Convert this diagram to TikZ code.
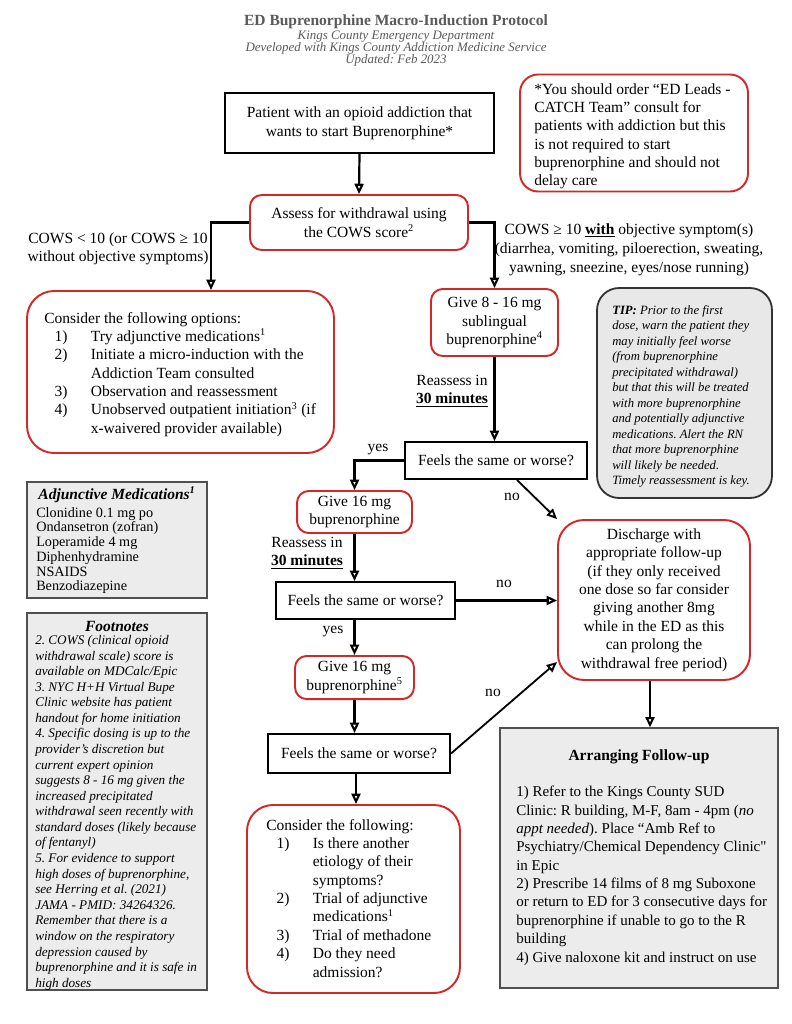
\documentclass[tikz,border=0pt]{standalone}
\usepackage{fontspec}
\setmainfont{Liberation Serif}
\usetikzlibrary{arrows.meta,calc}
\definecolor{boxred}{RGB}{212,40,40}
\definecolor{greyfill}{RGB}{236,236,236}
\definecolor{tipfill}{RGB}{232,232,232}
\definecolor{greyline}{RGB}{80,80,80}
\definecolor{hdrgrey}{RGB}{90,90,90}
\newcommand\bodyfont{\fontsize{12}{14.2}\selectfont}
\newcommand\myitem[2]{\makebox[36pt][l]{\hspace{8pt}#1}#2}
\newcommand\mycont[1]{\hspace*{36pt}#1}
\newcommand\straightquote{{\addfontfeature{Ligatures=TeXOff}"}}
\frenchspacing
\tikzset{
  redbox/.style={draw=boxred, line width=1.5pt, rounded corners=9pt, fill=white, align=center, inner sep=1pt},
  blackbox/.style={draw=black, line width=1.5pt, fill=white, align=center, inner sep=1pt},
  greybox/.style={draw=greyline, line width=1pt, fill=greyfill},
  tipbox/.style={draw=black!80, line width=1.4pt, fill=tipfill, rounded corners=17pt},
  txt/.style={anchor=north west, align=left, inner sep=0pt},
  lbl/.style={align=center, inner sep=0pt},
  arr/.style={line width=1.7pt, -{Triangle[open, length=8pt, width=7pt, line width=1.6pt]}},
  darr/.style={line width=1.4pt, -{Triangle[open, length=8pt, width=7pt, line width=1.5pt]}},
}
\begin{document}
\frenchspacing
\begin{tikzpicture}[x=0.7734pt, y=-0.7734pt, font=\bodyfont]
\fill[white] (0,0) rectangle (791,1024);
\useasboundingbox (0,0) rectangle (791,1024);

% header
\node[lbl, text=hdrgrey, font=\fontsize{12}{14}\selectfont\bfseries] (title) at (396,22) {ED Buprenorphine Macro-Induction Protocol};
\node[lbl, text=hdrgrey, font=\fontsize{10}{9.3}\selectfont\itshape] (subtitle) at (396,49) {Kings County Emergency Department\\Developed with Kings County Addiction Medicine Service\\Updated: Feb 2023};

% start
\node[blackbox, minimum width=208pt, minimum height=46.4pt, font=\fontsize{12}{15}\selectfont] (start) at (359.5,123) {Patient with an opioid addiction that\\wants to start Buprenorphine*};

% note
\node[redbox, rounded corners=14pt, minimum width=176.3pt, minimum height=90.5pt] (note) at (634,133) {};
\node[txt] (notetext) at (534,83) {*You should order “ED Leads -\\CATCH Team” consult for\\patients with addiction but this\\is not required to start\\buprenorphine and should not\\delay care};

% cows
\node[redbox, minimum width=168.6pt, minimum height=42.5pt] (cows) at (359,222.5) {Assess for withdrawal using\\the COWS score\textsuperscript{2}};

\node[lbl] (lowlbl) at (118,249) {COWS < 10 (or COWS ≥ 10\\without objective symptoms)};
\node[lbl, font=\fontsize{12}{14.8}\selectfont] (highlbl) at (629,250) {COWS ≥ 10 \textbf{\underline{with}} objective symptom(s)\\(diarrhea, vomiting, piloerection, sweating,\\yawning, sneezine, eyes/nose running)};

% options
\node[redbox, rounded corners=21pt, minimum width=237.4pt, minimum height=125.3pt] (opts) at (180.5,372) {};
\node[txt] (optstext) at (44,312) {Consider the following options:\\
\myitem{1)}{Try adjunctive medications\textsuperscript{1}}\\
\myitem{2)}{Initiate a micro-induction with the}\\
\mycont{Addiction Team consulted}\\
\myitem{3)}{Observation and reassessment}\\
\myitem{4)}{Unobserved outpatient initiation\textsuperscript{3} (if}\\
\mycont{x-waivered provider available)}};

% give 8-16
\node[redbox, minimum width=98.2pt, minimum height=51.8pt] (give8) at (494.5,322.5) {Give 8 - 16 mg\\sublingual\\buprenorphine\textsuperscript{4}};

% tip
\node[tipbox, minimum width=135.3pt, minimum height=162.4pt] (tip) at (684.5,393) {};
\node[txt, font=\fontsize{9.8}{12}\selectfont\itshape] (tiptext) at (612,305) {\textbf{TIP:} Prior to the first\\dose, warn the patient they\\may initially feel worse\\(from buprenorphine\\precipitated withdrawal)\\but that this will be treated\\with more buprenorphine\\and potentially adjunctive\\medications. Alert the RN\\that more buprenorphine\\will likely be needed.\\Timely reassessment is key.};

\node[lbl] (reass1) at (452,391) {Reassess in\\\textbf{\underline{30 minutes}}};

% feels 1
\node[blackbox, minimum width=140.8pt, minimum height=28.6pt] (feels1) at (496,460.5) {Feels the same or worse?};
\node[lbl] (yes1) at (378,450) {yes};
\node[lbl] (no1) at (512,497) {no};

% give 16 a
\node[redbox, minimum width=88.9pt, minimum height=32.5pt] (give16a) at (354.5,512) {Give 16 mg\\buprenorphine};
\node[lbl] (reass2) at (307,553) {Reassess in\\\textbf{\underline{30 minutes}}};

% feels 2
\node[blackbox, minimum width=138.4pt, minimum height=28.6pt] (feels2) at (365.5,600.5) {Feels the same or worse?};
\node[lbl] (no2) at (504,584) {no};
\node[lbl] (yes2) at (333,632) {yes};

% give 16 b
\node[redbox, minimum width=92pt, minimum height=33.3pt] (give16b) at (354.5,677.5) {Give 16 mg\\buprenorphine\textsuperscript{5}};

% feels 3
\node[blackbox, minimum width=140.8pt, minimum height=30.2pt] (feels3) at (359,753.5) {Feels the same or worse?};
\node[lbl] (no3) at (493,693) {no};

% consider
\node[redbox, rounded corners=20pt, minimum width=164.7pt, minimum height=145.4pt] (consider) at (353.5,899) {};
\node[txt] (considertext) at (266,819) {Consider the following:\\
\myitem{1)}{Is there another}\\
\mycont{etiology of their}\\
\mycont{symptoms?}\\
\myitem{2)}{Trial of adjunctive}\\
\mycont{medications\textsuperscript{1}}\\
\myitem{3)}{Trial of methadone}\\
\myitem{4)}{Do they need}\\
\mycont{admission?}};

% discharge
\node[redbox, rounded corners=20pt, minimum width=148.5pt, minimum height=123.7pt] (discharge) at (654,600) {Discharge with\\appropriate follow-up\\(if they only received\\one dose so far consider\\giving another 8mg\\while in the ED as this\\can prolong the\\withdrawal free period)};

% follow-up
\node[greybox, minimum width=215pt, minimum height=201pt] (followup) at (639,858) {};
\node[lbl, font=\bodyfont\bfseries] (futitle) at (639,757) {Arranging Follow-up};
\node[txt, font=\fontsize{11.6}{14.2}\selectfont] (futext) at (516,786) {1) Refer to the Kings County SUD\\Clinic: R building, M-F, 8am - 4pm (\textit{no}\\\textit{appt needed}). Place “Amb Ref to\\Psychiatry/Chemical Dependency Clinic\straightquote\\in Epic\\2) Prescribe 14 films of 8 mg Suboxone\\or return to ED for 3 consecutive days for\\buprenorphine if unable to go to the R\\building\\4) Give naloxone kit and instruct on use};

% adjunctive
\node[greybox, minimum width=139.2pt, minimum height=89.7pt] (adjunct) at (117,540) {};
\node[lbl, font=\fontsize{12}{13}\selectfont\bfseries\itshape] (adjtitle) at (117,495) {Adjunctive Medications\textsuperscript{1}};
\node[txt, font=\fontsize{11}{11.4}\selectfont] (adjtext) at (36,507) {Clonidine 0.1 mg po\\Ondansetron (zofran)\\Loperamide 4 mg\\Diphenhydramine\\NSAIDS\\Benzodiazepine};

% footnotes
\node[greybox, minimum width=139.2pt, minimum height=291.6pt] (footnotes) at (117,801.5) {};
\node[lbl, font=\fontsize{12}{13}\selectfont\bfseries\itshape] (fntitle) at (117,626) {Footnotes};
\node[txt, font=\fontsize{10.2}{12.05}\selectfont\itshape] (fntext) at (35,635) {2. COWS (clinical opioid\\withdrawal scale) score is\\available on MDCalc/Epic\\3. NYC H+H Virtual Bupe\\Clinic website has patient\\handout for home initiation\\4. Specific dosing is up to the\\provider’s discretion but\\current expert opinion\\suggests 8 - 16 mg given the\\increased precipitated\\withdrawal seen recently with\\standard doses (likely because\\of fentanyl)\\5. For evidence to support\\high doses of buprenorphine,\\see Herring et al. (2021)\\JAMA - PMID: 34264326.\\Remember that there is a\\window on the respiratory\\depression caused by\\buprenorphine and it is safe in\\high doses};

% connector end points
\coordinate (lowdrop) at ($(opts.north)+(30.5,0)$);
\coordinate (f1no) at ($(feels1.south)+(21,0)$);
\coordinate (dischin) at ($(discharge.west)+(0,62)$);
\coordinate (f3s) at ($(feels3.south)+(-3,0)$);
\coordinate (ds) at ($(discharge.south)+(-4,0)$);

% connectors
\draw[arr] (start.south) -- (cows.north);
\draw[arr] (cows.west) -| (lowdrop);
\draw[arr] (cows.east) -| (give8.north);
\draw[arr] (give8.south) -- (give8.south |- feels1.north);
\draw[arr] (feels1.west) -| (give16a.north);
\draw[darr] (f1no) -- (discharge.north west);
\draw[arr] (give16a.south) -- (give16a.south |- feels2.north);
\draw[arr] (feels2.east) -- (feels2.east -| discharge.west);
\draw[arr] (give16b.north |- feels2.south) -- (give16b.north);
\draw[arr] (give16b.south) -- (give16b.south |- feels3.north);
\draw[darr] (feels3.east) -- (dischin);
\draw[arr] (f3s) -- (f3s |- consider.north);
\draw[arr] (ds) -- (ds |- followup.north);
\end{tikzpicture}
\end{document}
